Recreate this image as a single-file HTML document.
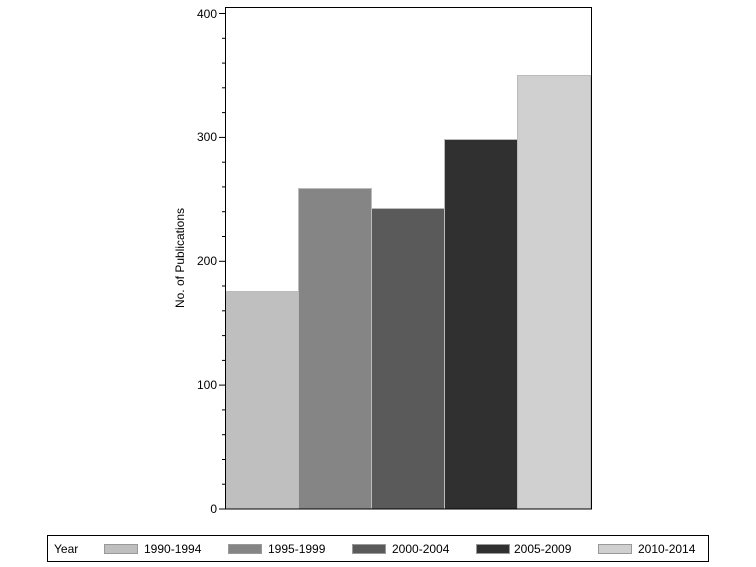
<!DOCTYPE html>
<html><head><style>body{margin:0;background:#fff}svg{display:block}text{font-family:"Liberation Sans",Arial,sans-serif;fill:#000}</style></head>
<body>
<svg width="756" height="567" viewBox="0 0 756 567">
<g stroke="#bbb" stroke-width="1">
<rect x="225.5" y="291.5" width="73" height="217.5" fill="#bfbfbf"/>
<rect x="298.5" y="188.5" width="73" height="320.5" fill="#858585"/>
<rect x="371.5" y="208.5" width="73" height="300.5" fill="#5a5a5a"/>
<rect x="444.5" y="139.5" width="73" height="369.5" fill="#303030"/>
<rect x="517.5" y="75.5" width="73" height="433.5" fill="#d0d0d0"/>
</g>
<rect x="225.5" y="7.5" width="366" height="501.5" fill="none" stroke="#000"/>
<g stroke="#000" stroke-width="1">
<line x1="219" x2="225" y1="509" y2="509"/>
<line x1="222" x2="225" y1="484.2" y2="484.2"/><line x1="222" x2="225" y1="459.5" y2="459.5"/><line x1="222" x2="225" y1="434.7" y2="434.7"/><line x1="222" x2="225" y1="409.9" y2="409.9"/>
<line x1="219" x2="225" y1="385.1" y2="385.1"/>
<line x1="222" x2="225" y1="360.4" y2="360.4"/><line x1="222" x2="225" y1="335.6" y2="335.6"/><line x1="222" x2="225" y1="310.8" y2="310.8"/><line x1="222" x2="225" y1="286" y2="286"/>
<line x1="219" x2="225" y1="261.3" y2="261.3"/>
<line x1="222" x2="225" y1="236.5" y2="236.5"/><line x1="222" x2="225" y1="211.7" y2="211.7"/><line x1="222" x2="225" y1="186.9" y2="186.9"/><line x1="222" x2="225" y1="162.2" y2="162.2"/>
<line x1="219" x2="225" y1="137.4" y2="137.4"/>
<line x1="222" x2="225" y1="112.6" y2="112.6"/><line x1="222" x2="225" y1="87.8" y2="87.8"/><line x1="222" x2="225" y1="63.1" y2="63.1"/><line x1="222" x2="225" y1="38.3" y2="38.3"/>
<line x1="219" x2="225" y1="13.5" y2="13.5"/>
</g>
<g font-size="12" text-anchor="end">
<text x="217" y="513">0</text>
<text x="217" y="389">100</text>
<text x="217" y="265">200</text>
<text x="217" y="141">300</text>
<text x="217" y="18">400</text>
</g>
<text transform="translate(184,258) rotate(-90)" font-size="12" text-anchor="middle">No. of Publications</text>
<rect x="47.5" y="535.5" width="661" height="26" fill="none" stroke="#000"/>
<g font-size="12">
<text x="54" y="553">Year</text>
<g stroke="#999">
<rect x="104.5" y="544.5" width="33" height="9" fill="#bfbfbf"/>
<rect x="228.5" y="544.5" width="33" height="9" fill="#858585"/>
<rect x="352.5" y="544.5" width="33" height="9" fill="#5a5a5a"/>
<rect x="476.5" y="544.5" width="33" height="9" fill="#303030"/>
<rect x="598.5" y="544.5" width="33" height="9" fill="#d0d0d0"/>
</g>
<text x="144" y="553">1990-1994</text>
<text x="268" y="553">1995-1999</text>
<text x="392" y="553">2000-2004</text>
<text x="514" y="553">2005-2009</text>
<text x="638" y="553">2010-2014</text>
</g>
</svg>
</body></html>
